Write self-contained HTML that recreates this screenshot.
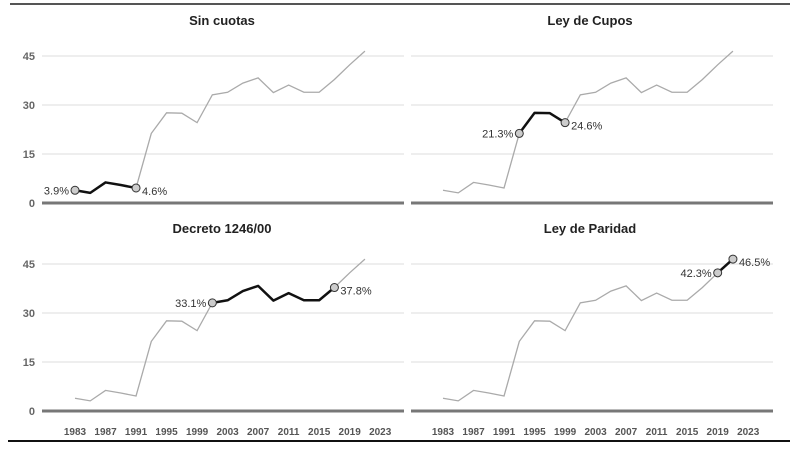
<!DOCTYPE html>
<html><head><meta charset="utf-8"><style>
html,body{margin:0;padding:0;background:#fff;}
svg{display:block;font-family:"Liberation Sans",Arial,sans-serif;}
</style></head><body>
<svg id="c" width="800" height="449" viewBox="0 0 800 449">
<line x1="10" y1="4" x2="790" y2="4" stroke="#555" stroke-width="2"/>
<line x1="8" y1="441" x2="790" y2="441" stroke="#111" stroke-width="2"/>
</svg>
<script>
const years=[1983,1985,1987,1989,1991,1993,1995,1997,1999,2001,2003,2005,2007,2009,2011,2013,2015,2017,2019,2021];
const values=[3.9,3.1,6.3,5.5,4.6,21.3,27.6,27.5,24.6,33.1,33.9,36.7,38.3,33.8,36.1,33.9,33.9,37.8,42.3,46.5];
const yTicks=[0,15,30,45];
const xTicks=[1983,1987,1991,1995,1999,2003,2007,2011,2015,2019,2023];
const panelTitles=["Sin cuotas","Ley de Cupos","Decreto 1246/00","Ley de Paridad"];
const highlightStart=[1983,1993,2001,2019];
const highlightEnd=[1991,1999,2017,2021];
const NS="http://www.w3.org/2000/svg";
const svg=document.getElementById('c');
function mk(t,a,p){const e=document.createElementNS(NS,t);for(const k in a)e.setAttribute(k,a[k]);(p||svg).appendChild(e);return e;}
const panels=[{ox:0,oy:0,gx0:42,gx1:404,labels:true},{ox:368,oy:0,gx0:411,gx1:773,labels:false},{ox:0,oy:208,gx0:42,gx1:404,labels:true},{ox:368,oy:208,gx0:411,gx1:773,labels:false}];
panels.forEach((p,i)=>{
  const g=mk('g',{});
  
  
  const x=v=>p.ox+75+(v-1983)*7.63;
  const y=v=>p.oy+203-v*49/15;
  const t=mk('text',{x:p.ox+222,y:p.oy+25,'text-anchor':'middle','font-size':'13','font-weight':'bold',fill:'#222'},g);
  t.textContent=panelTitles[i];
  
  
  yTicks.forEach(v=>{
    const l=mk('line',{x1:p.gx0,x2:p.gx1,y1:y(v),y2:y(v),stroke:v===0?'#777':'#ddd','stroke-width':v===0?3:1},g);
    
    
    if(p.labels){const tl=mk('text',{x:35,y:y(v)+4,'text-anchor':'end','font-size':'11','font-weight':'bold',fill:'#666'},g);tl.textContent=v;
      
      }
  });
  if(i>=2){xTicks.forEach(v=>{const tl=mk('text',{x:x(v),y:p.oy+227,'text-anchor':'middle','font-size':'10','font-weight':'bold',fill:'#555'},g);tl.textContent=v;
    
    });}
  const all=years.map((yr,j)=>x(yr)+','+y(values[j])).join(' ');
  const pl=mk('polyline',{points:all,fill:'none',stroke:'#aaa','stroke-width':1.3},g);
  
  
  const idx=years.map((yr,j)=>j).filter(j=>years[j]>=highlightStart[i]&&years[j]<=highlightEnd[i]);
  const hp=mk('polyline',{points:idx.map(j=>x(years[j])+','+y(values[j])).join(' '),fill:'none',stroke:'#111','stroke-width':2.5,'stroke-linejoin':'round'},g);
  
  
  [idx[0],idx[idx.length-1]].forEach((j,k)=>{
    const c=mk('circle',{cx:x(years[j]),cy:y(values[j]),r:4,fill:'#ccc',stroke:'#333','stroke-width':1},g);
    
    
    const lb=mk('text',{x:x(years[j])+(k===0?-6:6),y:y(values[j])+(k===0?4:7),'text-anchor':k===0?'end':'start','font-size':'11',fill:'#333'},g);
    lb.textContent=values[j].toFixed(1)+'%';
    
    
  });
});
</script>
</body></html>
